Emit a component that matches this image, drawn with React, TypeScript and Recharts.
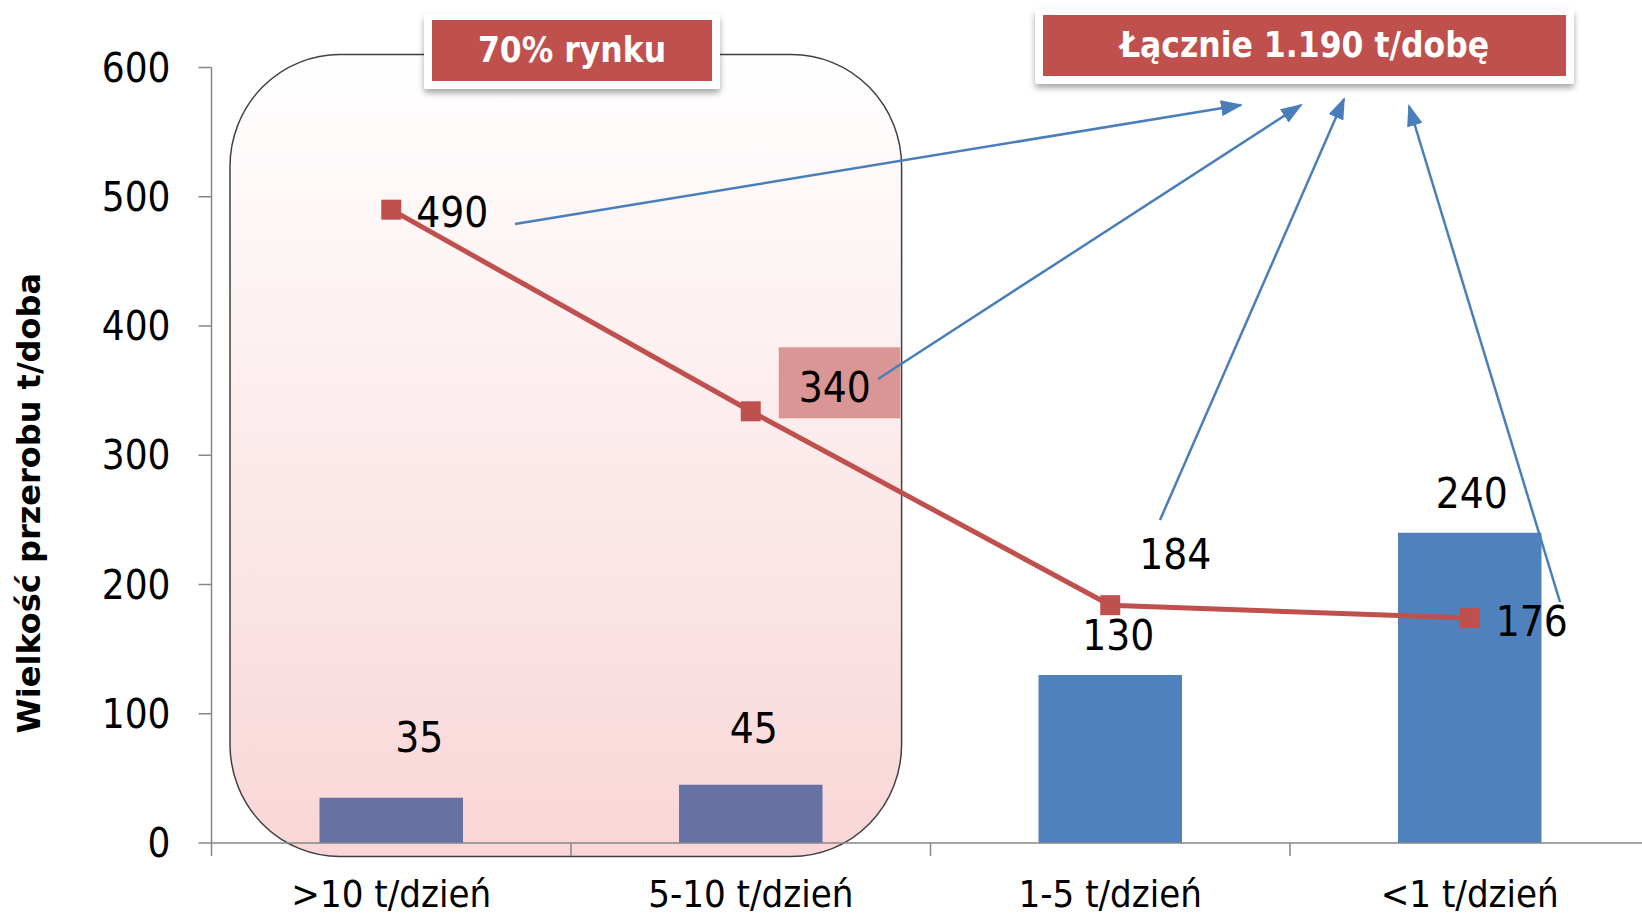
import React from "react";
import { ComposedChart, Bar, Line, XAxis, YAxis, Cell, LabelList, Label } from "recharts";

// values
const categories = [">10 t/dzień", "5-10 t/dzień", "1-5 t/dzień", "<1 t/dzień"];
const barValues = [35, 45, 130, 240];
const lineValues = [490, 334, 184, 174];
const lineLabels = ["490", "340", "184", "176"];
const yTicks = [0, 100, 200, 300, 400, 500, 600];
const axisTitle = "Wielkość przerobu t/doba";
const marketNote = "70% rynku";
const totalNote = "Łącznie 1.190 t/dobę";

const data = categories.map((name, i) => ({ name, bar: barValues[i], line: lineValues[i] }));

const W = 1660;
const H = 917;
const LEFT = 211.5;
const TOP = 67.5;
const BOTTOM = 74;
const RIGHT = 10.5;
const BAND = (W - LEFT - RIGHT) / categories.length;

const FONT = "'Liberation Sans Narrow', 'DejaVu Sans Condensed', 'Open Sans', sans-serif";
const RED = "#C0504D";
const BLUE = "#4A7EBB";
const barColors = ["#6672A4", "#6672A4", "#4F81BD", "#4F81BD"];
const barLabelShift = [[28, -60], [3, -56], [8, -39], [2, -39]];
const lineLabelShift = [[61, 3], [84, -24], [65, -51], [62, 3]];

function CategoryTick(props: any) {
  const { x, y, payload, index } = props;
  const left = x - BAND / 2;
  return (
    <g>
      <line x1={left} x2={left} y1={y} y2={y + 13} stroke="#868686" strokeWidth={1.5} />
      {index === categories.length - 1 && (
        <line x1={x + BAND / 2} x2={x + BAND / 2} y1={y} y2={y + 13} stroke="#868686" strokeWidth={1.5} />
      )}
      <text x={x} y={y + 51} textAnchor="middle" dominantBaseline="central" fontFamily={FONT} fontSize={38} fill="#000">
        {payload.value}
      </text>
    </g>
  );
}

function BarValue(props: any) {
  const { x, y, width, index, value } = props;
  const [dx, dy] = barLabelShift[index];
  return (
    <text x={x + width / 2 + dx} y={y + dy} textAnchor="middle" dominantBaseline="central" fontFamily={FONT} fontSize={42} fill="#000">
      {value}
    </text>
  );
}

function LineValue(props: any) {
  const { x, y, index } = props;
  const [dx, dy] = lineLabelShift[index];
  return (
    <g>
      {index === 1 && <rect x={x + 28} y={y - 64} width={121.6} height={71} fill="#D99694" />}
      <text x={x + dx} y={y + dy} textAnchor="middle" dominantBaseline="central" fontFamily={FONT} fontSize={42} fill="#000">
        {lineLabels[index]}
      </text>
    </g>
  );
}

function SquareDot(props: any) {
  const { cx, cy, index } = props;
  return <rect key={index} x={cx - 10} y={cy - 10} width={20} height={20} fill={RED} />;
}

function AxisTitle(props: any) {
  const vb = props.viewBox || { x: 0, y: TOP, height: H - TOP - BOTTOM };
  const cx = vb.x + 29;
  const cy = vb.y + vb.height / 2 + 48;
  return (
    <text x={cx} y={cy} transform={`rotate(-90, ${cx}, ${cy})`} textAnchor="middle" dominantBaseline="central"
      fontFamily="'DejaVu Sans', sans-serif" fontWeight="bold" fontSize={32} fill="#000">
      {axisTitle}
    </text>
  );
}

function NoteBox({ x, y, w, h, text }: { x: number; y: number; w: number; h: number; text: string }) {
  return (
    <g>
      <rect x={x} y={y} width={w} height={h} rx={3} fill="#fff" filter="url(#shadow)" />
      <rect x={x + 8} y={y + 6} width={w - 16} height={h - 14} fill={RED} />
      <text x={x + w / 2} y={y + h / 2 - 2} textAnchor="middle" dominantBaseline="central" fontFamily={FONT}
        fontWeight="bold" fontSize={35} fill="#fff">
        {text}
      </text>
    </g>
  );
}

const arrows = [
  [515, 224, 1241, 105],
  [878, 379, 1301, 105],
  [1160, 520, 1344, 99],
  [1560, 602, 1409, 106],
];

export default function App() {
  return (
    <div style={{ position: "absolute", left: 0, top: 0, width: 1642, height: 917, overflow: "hidden", background: "#fff" }}>
      <svg width={1642} height={917} style={{ position: "absolute", left: 0, top: 0 }}>
        <defs>
          <linearGradient id="boxFill" x1="0" y1="0" x2="0" y2="1">
            <stop offset="0%" stopColor="#FFFFFF" />
            <stop offset="100%" stopColor="#F9D6D7" />
          </linearGradient>
        </defs>
        <rect x={230} y={54.5} width={671.6} height={802} rx={110} ry={112} fill="url(#boxFill)" stroke="#404040" strokeWidth={1.5} />
      </svg>
      <div style={{ position: "absolute", left: 0, top: 0 }}>
        <ComposedChart width={W} height={H} data={data} margin={{ top: TOP, right: RIGHT, bottom: 0, left: 0 }}>
          <XAxis dataKey="name" height={BOTTOM} tickSize={0} tickMargin={0} tickLine={false}
            axisLine={{ stroke: "#868686", strokeWidth: 1.5 }} tick={<CategoryTick />} interval={0} />
          <YAxis width={LEFT} domain={[0, 600]} ticks={yTicks} tickSize={13} tickMargin={28}
            axisLine={{ stroke: "#868686", strokeWidth: 1.5 }} tickLine={{ stroke: "#868686", strokeWidth: 1.5 }}
            tick={{ fontFamily: FONT, fontSize: 40, fill: "#000" }}>
            <Label content={<AxisTitle />} />
          </YAxis>
          <Bar dataKey="bar" barSize={143.5} isAnimationActive={false}>
            {data.map((d, i) => (
              <Cell key={d.name} fill={barColors[i]} />
            ))}
            <LabelList dataKey="bar" content={<BarValue />} />
          </Bar>
          <Line dataKey="line" stroke={RED} strokeWidth={5} dot={<SquareDot />} activeDot={false} isAnimationActive={false}>
            <LabelList dataKey="line" content={<LineValue />} />
          </Line>
        </ComposedChart>
      </div>
      <svg width={1642} height={917} style={{ position: "absolute", left: 0, top: 0, pointerEvents: "none" }}>
        <defs>
          <filter id="shadow" x="-10%" y="-20%" width="120%" height="160%">
            <feDropShadow dx="0" dy="4" stdDeviation="3" floodColor="#000" floodOpacity="0.35" />
          </filter>
          <marker id="head" markerUnits="userSpaceOnUse" markerWidth={22} markerHeight={16} refX={20} refY={8} orient="auto">
            <path d="M0,0 L22,8 L0,16 z" fill={BLUE} />
          </marker>
        </defs>
        {arrows.map(([x1, y1, x2, y2], i) => (
          <line key={i} x1={x1} y1={y1} x2={x2} y2={y2} stroke={BLUE} strokeWidth={2.5} markerEnd="url(#head)" />
        ))}
        <NoteBox x={424} y={14} w={296} h={75} text={marketNote} />
        <NoteBox x={1035} y={9} w={539} h={75} text={totalNote} />
      </svg>
    </div>
  );
}
